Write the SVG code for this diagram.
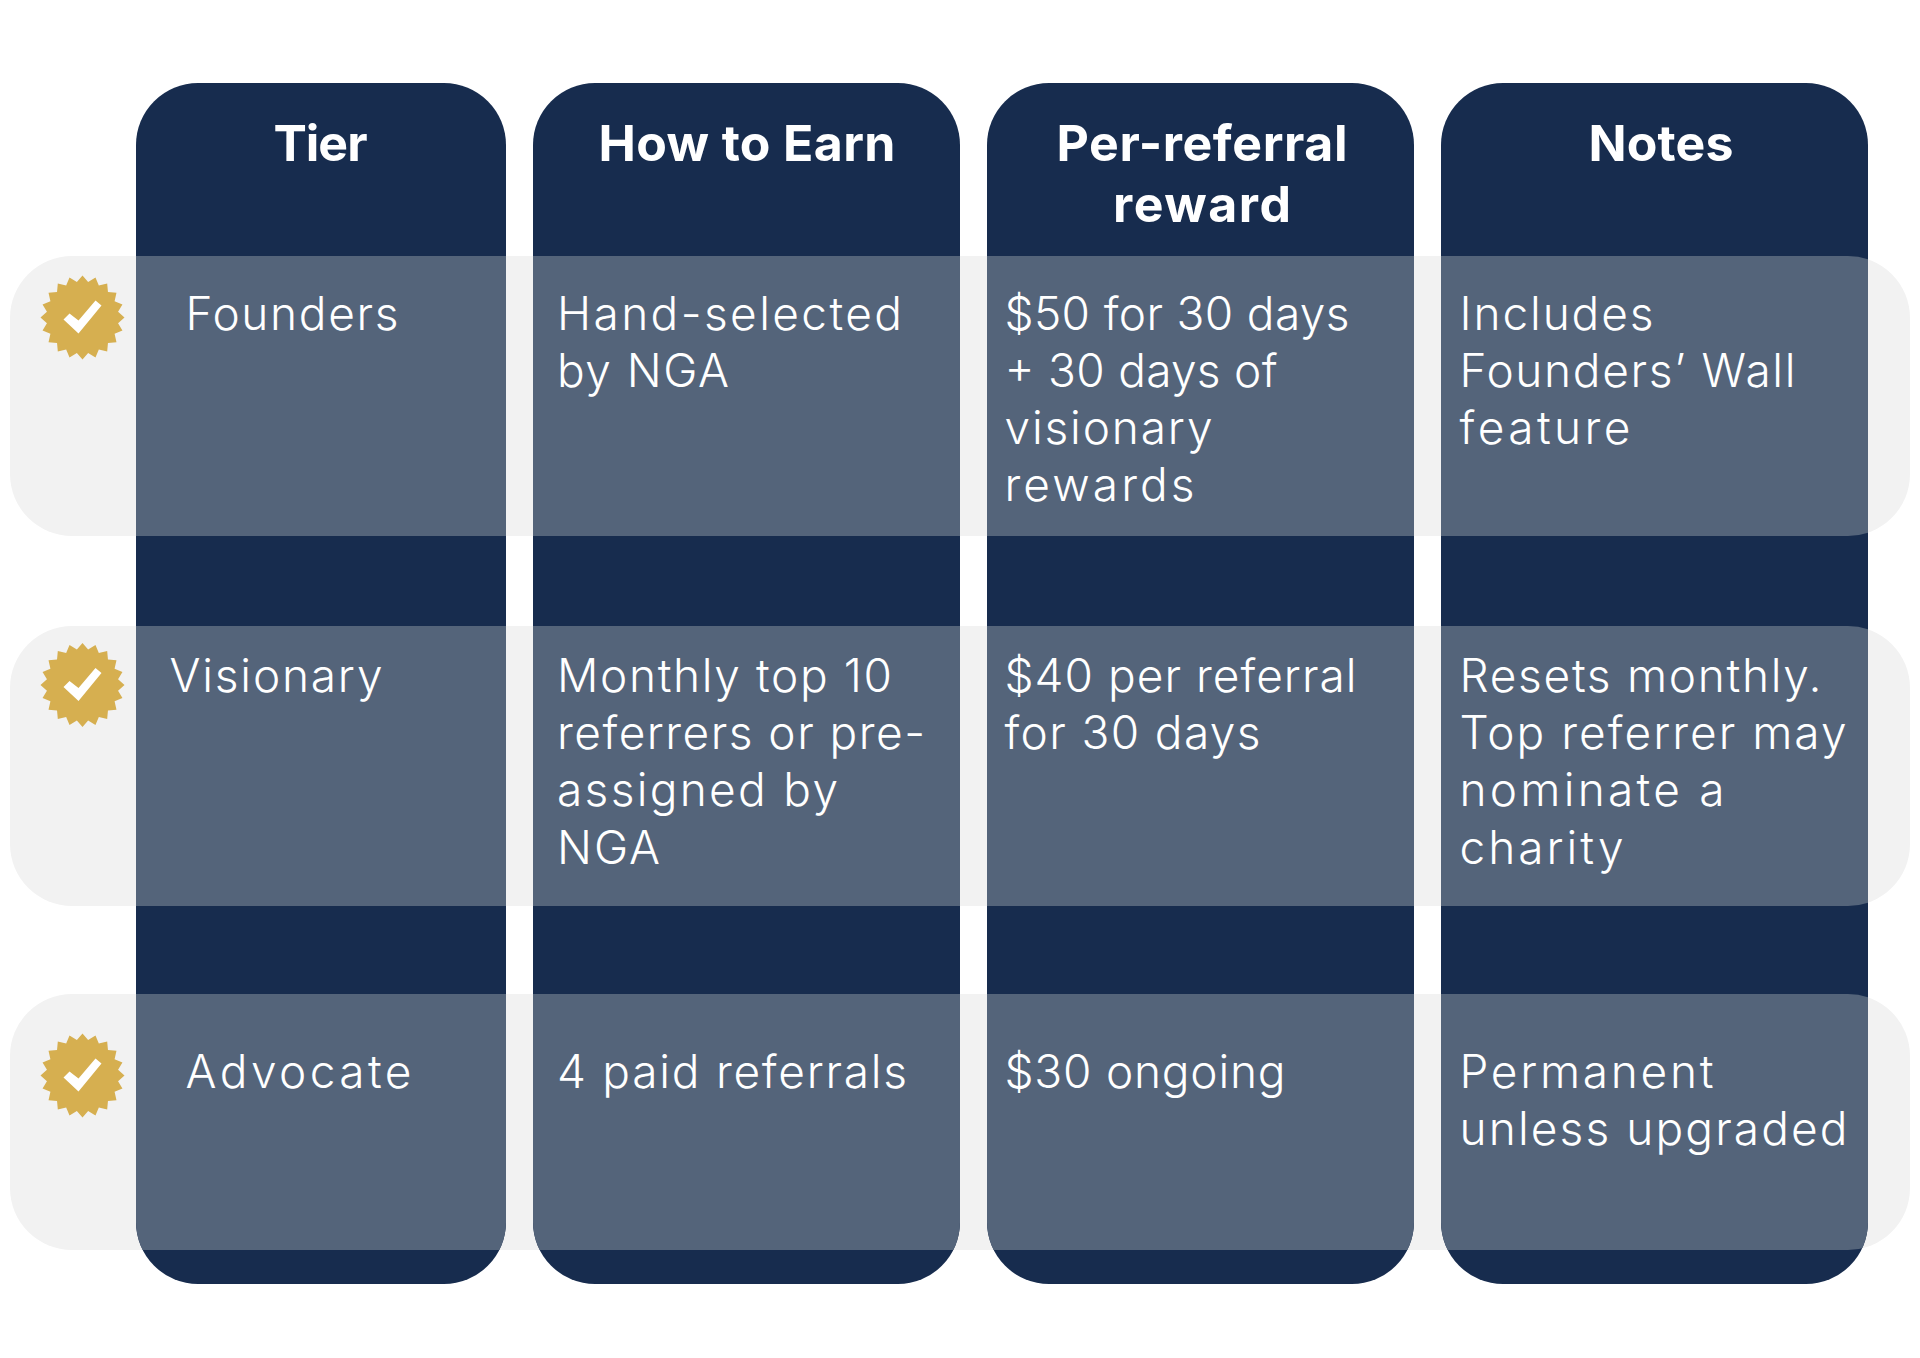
<svg xmlns="http://www.w3.org/2000/svg" width="1920" height="1358" viewBox="0 0 1920 1358">
<style>
.col{fill:#172c4e}
.band{fill:#f2f2f2}
.over{fill:#54647a}
.badge{fill:#d6af50}
.h{font-family:Inter,"Liberation Sans",sans-serif;font-weight:700;font-size:50px;fill:#fff;text-anchor:middle}
.b{font-family:Inter,"Liberation Sans",sans-serif;font-weight:300;font-size:46px;fill:#fff}
</style>
<defs>
<rect id="c1" x="136" y="83" width="370" height="1201" rx="62"/>
<rect id="c2" x="533" y="83" width="427" height="1201" rx="62"/>
<rect id="c3" x="987" y="83" width="427" height="1201" rx="62"/>
<rect id="c4" x="1441" y="83" width="427" height="1201" rx="62"/>
<rect id="r1" x="10" y="256" width="1900" height="280" rx="62"/>
<rect id="r2" x="10" y="626" width="1900" height="280" rx="62"/>
<rect id="r3" x="10" y="994" width="1900" height="256" rx="62"/>
<clipPath id="cols"><use href="#c1"/><use href="#c2"/><use href="#c3"/><use href="#c4"/></clipPath>
<g id="seal">
<polygon class="badge" points="42,0 35.56,5.63 39.94,12.98 32.08,16.34 33.98,24.69 25.46,25.46 24.69,33.98 16.34,32.08 12.98,39.94 5.63,35.56 0,42 -5.63,35.56 -12.98,39.94 -16.34,32.08 -24.69,33.98 -25.46,25.46 -33.98,24.69 -32.08,16.34 -39.94,12.98 -35.56,5.63 -42,0 -35.56,-5.63 -39.94,-12.98 -32.08,-16.34 -33.98,-24.69 -25.46,-25.46 -24.69,-33.98 -16.34,-32.08 -12.98,-39.94 -5.63,-35.56 0,-42 5.63,-35.56 12.98,-39.94 16.34,-32.08 24.69,-33.98 25.46,-25.46 33.98,-24.69 32.08,-16.34 39.94,-12.98 35.56,-5.63"/>
<polygon fill="#fff" points="-19,2 -13,-4 -4,3 13,-17 19,-12 -4,16"/>
</g>
</defs>
<rect width="1920" height="1358" fill="#fff"/>
<g id="bands" class="band"><use href="#r1"/><use href="#r2"/><use href="#r3"/></g>
<g id="columns" class="col"><use href="#c1"/><use href="#c2"/><use href="#c3"/><use href="#c4"/></g>
<g id="overlaps" class="over" clip-path="url(#cols)"><use href="#r1"/><use href="#r2"/><use href="#r3"/></g>
<g id="connectors"/>
<g id="badge-founders"><use href="#seal" x="82.5" y="317.5"/></g>
<g id="badge-visionary"><use href="#seal" x="82.5" y="685"/></g>
<g id="badge-advocate"><use href="#seal" x="82.5" y="1075.5"/></g>
<g id="headers">
<text class="h" x="320.5" y="161" textLength="94">Tier</text>
<text class="h" x="747" y="161" textLength="297">How to Earn</text>
<text class="h" x="1202" y="161" textLength="291">Per-referral</text>
<text class="h" x="1202" y="222" textLength="178">reward</text>
<text class="h" x="1661" y="161" textLength="145">Notes</text>
</g>
<g id="row-founders">
<text class="b" x="185.5" y="330" textLength="213">Founders</text>
<text class="b" x="557" y="330" textLength="345">Hand-selected</text>
<text class="b" x="557" y="387" textLength="172">by NGA</text>
<text class="b" x="1004.5" y="330" textLength="345">$50 for 30 days</text>
<text class="b" x="1004.5" y="387" textLength="273">+ 30 days of</text>
<text class="b" x="1004.5" y="444" textLength="208">visionary</text>
<text class="b" x="1004.5" y="501" textLength="190">rewards</text>
<text class="b" x="1459.5" y="330" textLength="194">Includes</text>
<text class="b" x="1459.5" y="387" textLength="336">Founders’ Wall</text>
<text class="b" x="1459.5" y="444" textLength="171">feature</text>
</g>
<g id="row-visionary">
<text class="b" x="169.5" y="692" textLength="213">Visionary</text>
<text class="b" x="557" y="692" textLength="335">Monthly top 10</text>
<text class="b" x="557" y="749" textLength="368">referrers or pre-</text>
<text class="b" x="557" y="806" textLength="281">assigned by</text>
<text class="b" x="557" y="864" textLength="103">NGA</text>
<text class="b" x="1004.5" y="692" textLength="352">$40 per referral</text>
<text class="b" x="1004.5" y="749" textLength="256">for 30 days</text>
<text class="b" x="1459.5" y="692" textLength="362">Resets monthly.</text>
<text class="b" x="1459.5" y="749" textLength="387">Top referrer may</text>
<text class="b" x="1459.5" y="806" textLength="265">nominate a</text>
<text class="b" x="1459.5" y="864" textLength="164">charity</text>
</g>
<g id="row-advocate">
<text class="b" x="185.5" y="1088" textLength="226">Advocate</text>
<text class="b" x="557" y="1088" textLength="350">4 paid referrals</text>
<text class="b" x="1004.5" y="1088" textLength="281">$30 ongoing</text>
<text class="b" x="1459.5" y="1088" textLength="254">Permanent</text>
<text class="b" x="1459.5" y="1145" textLength="388">unless upgraded</text>
</g>
</svg>
